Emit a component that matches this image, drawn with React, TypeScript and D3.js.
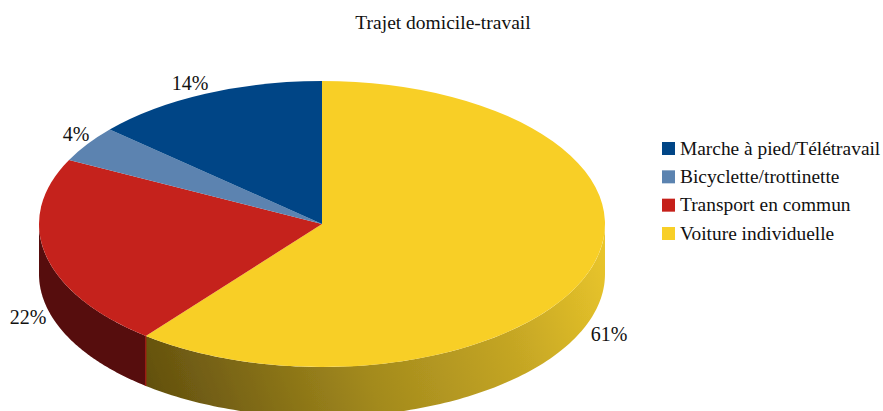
import React from "react";
import * as d3 from "d3";

const categories = ["Voiture individuelle", "Transport en commun", "Bicyclette/trottinette", "Marche à pied/Télétravail"];
const shares = [60.7, 21.7, 4.1, 13.5];
const topColors = ["#f8cf27", "#c5201a", "#5b83b0", "#004586"];
const legendOrder = [3, 2, 1, 0];
const title = "Trajet domicile-travail";

const font = "'Liberation Serif', 'Times New Roman', serif";
const cx = 322, cy = 224, rx = 283, ry = 143, depth = 50;

const pieGen = d3.pie<number>().sort(null).value((d) => d);
const arcs = pieGen(shares);
const arcGen = d3.arc<d3.PieArcDatum<number>>().innerRadius(0).outerRadius(rx);
const yScale = ry / rx;

const pt = (a: number, dy = 0): [number, number] => [cx + rx * Math.sin(a), cy - ry * Math.cos(a) + dy];
const line = d3.line();

function sidePath(a0: number, a1: number) {
  const from = Math.max(a0, Math.PI / 2);
  const to = Math.min(a1, (3 * Math.PI) / 2);
  if (to <= from) return null;
  const angles = d3.range(0, 121).map((i) => from + ((to - from) * i) / 120);
  const pts = [...angles.map((a) => pt(a)), ...angles.slice().reverse().map((a) => pt(a, depth))];
  return line(pts) + "Z";
}

const labelPos: [number, number][] = [[609, 341], [28, 324], [76, 141], [190, 90]];
const labelPct = [61, 22, 4, 14];
const legendY = d3.scalePoint<number>().domain(legendOrder).range([148.5, 233.5]);

export default function App() {
  return (
    <svg width={883} height={411} style={{ position: "absolute", left: 0, top: 0, background: "#fff" }} fontFamily={font}>
      <defs>
        <linearGradient id="yellowSide" gradientUnits="userSpaceOnUse" x1={146} y1={411} x2={605} y2={240}>
          <stop offset="0" stopColor="#5f4d0e" />
          <stop offset="0.2" stopColor="#7d6815" />
          <stop offset="0.45" stopColor="#a38a1d" />
          <stop offset="0.75" stopColor="#c5a624" />
          <stop offset="1" stopColor="#eac62b" />
        </linearGradient>
        <filter id="soft" x="-5%" y="-5%" width="110%" height="110%">
          <feGaussianBlur stdDeviation="0.6" />
        </filter>
      </defs>
      <g filter="url(#soft)">
        {arcs.map((a, i) => {
          const d = sidePath(a.startAngle, a.endAngle);
          if (!d) return null;
          return <path key={i} d={d} fill={i === 0 ? "url(#yellowSide)" : "#560a0a"} />;
        })}
        <line
          x1={pt(arcs[0].endAngle)[0]} y1={pt(arcs[0].endAngle)[1]}
          x2={pt(arcs[0].endAngle, depth)[0]} y2={pt(arcs[0].endAngle, depth)[1]}
          stroke="#a3170f" strokeWidth={1.2}
        />
        <g transform={`translate(${cx},${cy}) scale(1,${yScale})`}>
          {arcs.map((a, i) => (
            <path key={i} d={arcGen(a) ?? ""} fill={topColors[i]} />
          ))}
        </g>
      </g>
      <text x={443} y={29} textAnchor="middle" fontSize={19.5} fill="#111">{title}</text>
      {arcs.map((a, i) => (
        <text key={i} x={labelPos[i][0]} y={labelPos[i][1]} textAnchor="middle" fontSize={20} fill="#111">
          {labelPct[i]}%
        </text>
      ))}
      {legendOrder.map((i) => (
        <g key={i}>
          <rect x={662} y={legendY(i)! - 6.5} width={13} height={13} fill={topColors[i]} />
          <text x={680} y={legendY(i)! + 6} fontSize={19.4} fill="#111">{categories[i]}</text>
        </g>
      ))}
    </svg>
  );
}
